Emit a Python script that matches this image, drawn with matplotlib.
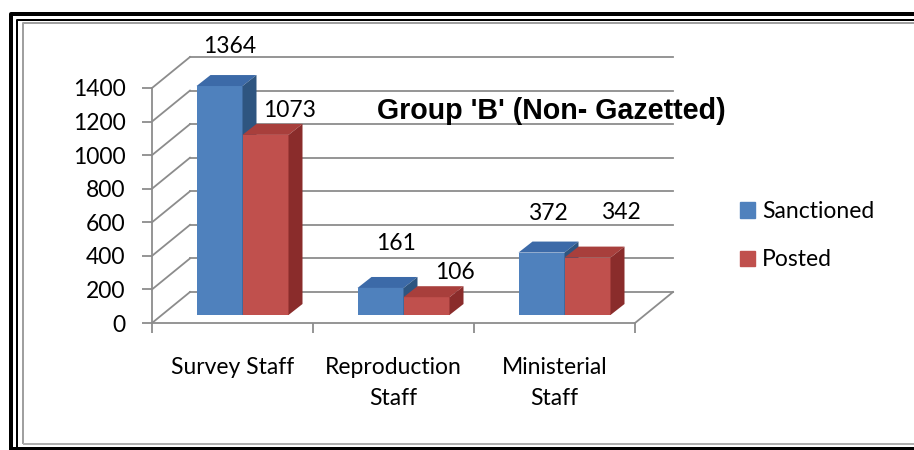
import numpy as np
import matplotlib.pyplot as plt
from matplotlib.patches import Polygon, Patch
from matplotlib.lines import Line2D

plt.rcParams['font.family'] = ['Lato', 'DejaVu Sans']

# data
categories = ["Survey Staff", "Reproduction\nStaff", "Ministerial\nStaff"]
sanctioned = [1364, 161, 372]
posted = [1073, 106, 342]
series_names = ["Sanctioned", "Posted"]
y_ticks = [0, 200, 400, 600, 800, 1000, 1200, 1400]

W, H = 914, 450
# one category = 161 px, 1400 units = 235 px
PX_X = 1 / 161
PX_Y = 1400 / 235
FS = 16.5

face = {"Sanctioned": ("#4F81BD", "#3C6AA8", "#2E5580"),
        "Posted": ("#C0504D", "#A83F3C", "#8A2C2B")}
grid_c = "#8C8C8C"

fig = plt.figure(figsize=(W / 100, H / 100), dpi=100)
ax = fig.add_axes([0, 0, 1, 1])
ax.set_xlim(-152 * PX_X, (W - 152) * PX_X)
ax.set_ylim(-(H - 323) * PX_Y, 323 * PX_Y)
ax.patch.set_visible(False)

# 3D box: back wall offset, bar plane offset, bar depth
wall_dx, wall_dy = 38 * PX_X, 31 * PX_Y
front_dx, front_dy = 10 * PX_X, 8 * PX_Y
bar_dx, bar_dy = 14 * PX_X, 11 * PX_Y
bar_w = 46 * PX_X
n = len(categories)

for v in y_ticks:
    ax.plot([wall_dx, n + wall_dx], [v + wall_dy] * 2, color=grid_c, lw=1.3, zorder=1)
    ax.plot([0, wall_dx], [v, v + wall_dy], color=grid_c, lw=1.3, zorder=1)
ax.plot([n, n + wall_dx], [0, wall_dy], color=grid_c, lw=1.3, zorder=1)

label_offsets = {"Sanctioned": [(10, 40), (16, 44), (6, 39)],
                 "Posted": [(24, 24), (28, 25), (33, 45)]}

x = np.arange(n)
for i in range(n):
    for j, (name, vals) in enumerate(zip(series_names, [sanctioned, posted])):
        front, top_c, side_c = face[name]
        x0 = x[i] + 0.5 - bar_w + j * bar_w + front_dx
        h = vals[i]
        top = front_dy + h
        ax.bar(x0, h, width=bar_w, bottom=front_dy, align='edge',
               color=front, lw=0, zorder=3)
        ax.add_patch(Polygon([(x0, top), (x0 + bar_w, top),
                              (x0 + bar_w + bar_dx, top + bar_dy),
                              (x0 + bar_dx, top + bar_dy)],
                             closed=True, color=top_c, lw=0, zorder=3))
        ax.add_patch(Polygon([(x0 + bar_w, front_dy), (x0 + bar_w + bar_dx, front_dy + bar_dy),
                              (x0 + bar_w + bar_dx, top + bar_dy), (x0 + bar_w, top)],
                             closed=True, color=side_c, lw=0, zorder=3))
        ox, oy = label_offsets[name][i]
        ax.annotate(str(h), (x0 + bar_w / 2, top), xytext=(ox, oy),
                    textcoords='offset pixels', ha='center', va='center',
                    fontsize=FS, zorder=5)

# axes
for s in ['top', 'right']:
    ax.spines[s].set_visible(False)
ax.spines['left'].set_position(('data', 0))
ax.spines['left'].set_bounds(0, 1400)
ax.spines['bottom'].set_position(('data', 0))
ax.spines['bottom'].set_bounds(0, n)
for s in ['left', 'bottom']:
    ax.spines[s].set_color(grid_c)
    ax.spines[s].set_linewidth(1.3)
ax.set_yticks(y_ticks)
ax.set_yticklabels([str(t) for t in y_ticks], fontsize=FS)
ax.set_xticks(np.arange(n + 1))
ax.set_xticklabels([])
ax.set_xticks(x + 0.5, minor=True)
ax.set_xticklabels(categories, minor=True, fontsize=FS, linespacing=1.6)
ax.tick_params(axis='both', which='major', direction='out', length=7, width=1.3,
               color=grid_c, pad=12)
ax.tick_params(axis='x', which='minor', length=0, pad=24.5)

fig.text(551 / W, 1 - 111 / H, "Group 'B' (Non- Gazetted)", fontfamily='Liberation Sans',
         fontweight='bold', fontsize=20.6, ha='center', va='center')

handles = [Patch(color=face[s][0]) for s in series_names]
fig.legend(handles, series_names, loc='upper left', bbox_to_anchor=(740 / W, 1 - 201 / H),
           frameon=False, fontsize=FS, handlelength=0.66, handleheight=0.66,
           handletextpad=0.3, labelspacing=1.2, borderpad=0, borderaxespad=0)

# frame around the chart
def frame_line(xs, ys, lw, color):
    fig.add_artist(Line2D([v / W for v in xs], [1 - v / H for v in ys],
                          transform=fig.transFigure, lw=lw * 0.72, color=color,
                          solid_capstyle='butt'))

frame_line([11, 11, 920], [470, 14, 14], 4, 'black')
frame_line([17, 17, 920], [470, 20, 20], 2, 'black')
frame_line([10, 920], [448.5, 448.5], 4, 'black')
frame_line([23, 23, 920], [444, 23, 23], 2, '#A0A0A0')
frame_line([23, 920], [443.5, 443.5], 2, '#B0B0B0')

fig.savefig("out.png", dpi=100)
